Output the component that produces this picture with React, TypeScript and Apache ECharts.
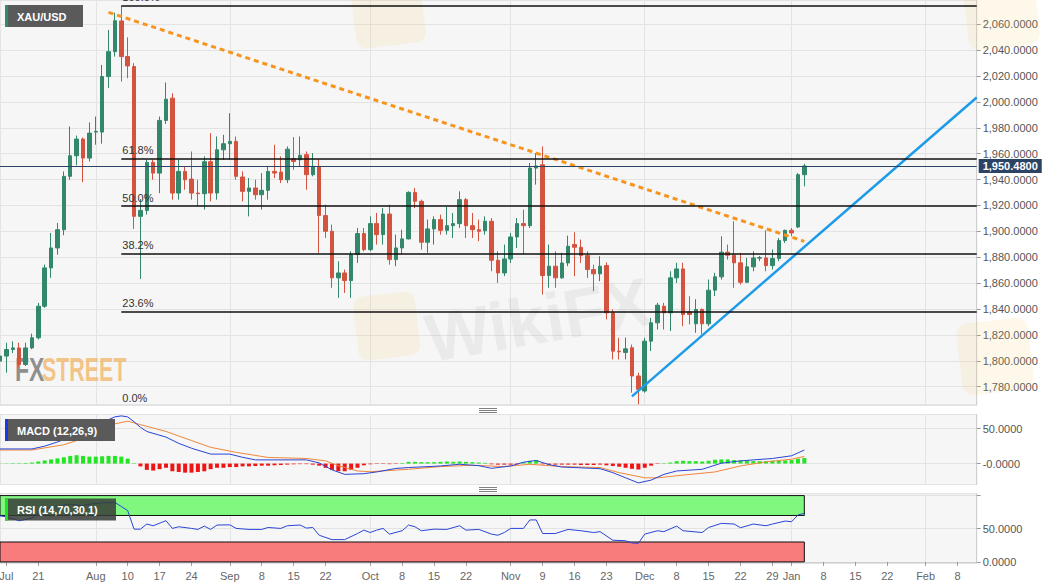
import React, { useEffect, useRef } from "react";
import * as echarts from "echarts";

const FONT = '"Liberation Sans", Arial, Helvetica, sans-serif';

// ---------- categories (trading days) ----------
function buildDates(): string[] {
  const out: string[] = [];
  const d = new Date(Date.UTC(2020, 6, 13));
  const end = Date.UTC(2021, 1, 11);
  while (d.getTime() <= end) {
    const wd = d.getUTCDay();
    if (wd !== 0 && wd !== 6) out.push(d.toISOString().slice(0, 10));
    d.setUTCDate(d.getUTCDate() + 1);
  }
  return out;
}
const dates = buildDates();

// ---------- tick labels ----------
const tickDates = [
  "2020-07-14", "2020-07-21", "2020-08-03", "2020-08-10", "2020-08-17", "2020-08-24",
  "2020-09-01", "2020-09-08", "2020-09-15", "2020-09-22", "2020-10-01", "2020-10-08",
  "2020-10-15", "2020-10-22", "2020-11-02", "2020-11-09", "2020-11-16", "2020-11-23",
  "2020-12-01", "2020-12-08", "2020-12-15", "2020-12-22", "2020-12-29", "2021-01-01",
  "2021-01-08", "2021-01-15", "2021-01-22", "2021-02-01", "2021-02-08",
];
const tickLabels = [
  "Jul", "21", "Aug", "10", "17", "24", "Sep", "8", "15", "22", "Oct", "8", "15", "22",
  "Nov", "9", "16", "23", "Dec", "8", "15", "22", "29", "Jan", "8", "15", "22", "Feb", "8",
];
const monthStarts = ["2020-08-03", "2020-09-01", "2020-10-01", "2020-11-02", "2020-12-01", "2021-01-01", "2021-02-01"];

// ---------- XAU/USD daily candles ----------
const opens = [
  1799.8, 1803.7, 1808.8, 1810, 1797.2, 1810, 1817.8, 1842.2, 1871.8, 1887.2,
  1901.3, 1942.5, 1958.4, 1971.3, 1956.6, 1976.7, 1976.7, 2019.6, 2038.8, 2062.5,
  2035, 2027.3, 1911.6, 1916.2, 1953.3, 1945, 1985.7, 2002.9, 1929.6, 1946.3,
  1940.4, 1929.6, 1929.1, 1953.8, 1929.6, 1963, 1967.7, 1969.5, 1942, 1930.9,
  1933.5, 1928.3, 1931.7, 1946.3, 1945.8, 1939.9, 1956.1, 1955.3, 1959.2, 1943.8,
  1950.2, 1912.2, 1900.1, 1864.1, 1867.9, 1862, 1882.1, 1898.3, 1885.9, 1906,
  1897.5, 1913.4, 1878.2, 1887.2, 1894.2, 1930.1, 1923.2, 1891.6, 1901.9, 1909.1,
  1900.8, 1904.4, 1906, 1924.5, 1904.4, 1901.3, 1900.5, 1907.8, 1877.7, 1867.9,
  1878.7, 1895.7, 1906, 1904.4, 1948.9, 1951.5, 1865.9, 1873.1, 1864.1, 1875.6,
  1889.8, 1887.7, 1881.3, 1870.5, 1867.2, 1873.6, 1837.1, 1807.5, 1806.5, 1810.1,
  1788.3, 1776.7, 1815.2, 1829.4, 1842.2, 1837.1, 1864.1, 1871, 1837.9, 1828.6,
  1839.7, 1828.6, 1854.6, 1864.9, 1883.9, 1881.6, 1875.7, 1860.7, 1872.6, 1879.3,
  1879.5, 1873.6, 1879, 1892.9, 1900.8, 1903.4, 1943.8,
];
const closes = [
  1803.7, 1808.8, 1810, 1797.2, 1810, 1817.8, 1842.2, 1871.8, 1887.2, 1901.3,
  1942.5, 1958.4, 1971.3, 1956.6, 1975.9, 1977.2, 2019.6, 2038.8, 2062.7, 2035,
  2027.8, 1911.6, 1916.2, 1953.3, 1945, 1985.7, 2002.1, 1929.6, 1946.3, 1939.9,
  1929.6, 1929.1, 1953.8, 1929.6, 1963, 1967.7, 1969.5, 1942.5, 1930.9, 1933.5,
  1928.3, 1931.7, 1946.3, 1945, 1939.9, 1963.5, 1954, 1958.7, 1943.8, 1950.2,
  1912.2, 1900.1, 1864.1, 1867.9, 1862, 1882.1, 1898.3, 1885.9, 1906, 1897.5,
  1913.4, 1878.2, 1887.2, 1894.2, 1930.1, 1923.2, 1891.6, 1901.9, 1909.1, 1900.8,
  1904.4, 1906, 1924.5, 1904.4, 1901.3, 1900.1, 1907.8, 1877.7, 1867.9, 1878.7,
  1895.7, 1906, 1904.4, 1948.9, 1950.5, 1865.9, 1873.1, 1864.1, 1875.6, 1888.5,
  1887.7, 1881.3, 1870.5, 1867.2, 1873.1, 1837.1, 1807.5, 1807, 1809.3, 1788.3,
  1778, 1815.2, 1829.4, 1843, 1837.1, 1864.1, 1871, 1835.8, 1835.8, 1839.7,
  1828.6, 1854.6, 1864.9, 1883.9, 1881.6, 1875.7, 1860.7, 1872.6, 1879.5, 1879.7,
  1873.6, 1879, 1892.9, 1900.8, 1898.8, 1943.8, 1950.48,
];
const lows = [
  1797, 1790.8, 1806, 1795, 1796, 1809, 1816.5, 1841, 1864.1, 1882,
  1897, 1939.9, 1951, 1938, 1954, 1966.9, 1967.7, 2010.8, 2035, 2015.7,
  2018.3, 1901.9, 1863.3, 1913, 1939.9, 1929.6, 1983, 1924.5, 1924.5, 1932.2,
  1924.5, 1919.4, 1916.8, 1923.2, 1924.5, 1955.3, 1955.3, 1939.9, 1923.2, 1911.6,
  1924.5, 1916.8, 1924.5, 1941.2, 1937.3, 1937.3, 1947.6, 1950.2, 1932.2, 1942.5,
  1883.4, 1894.9, 1856.4, 1848.7, 1852.5, 1848.7, 1875.6, 1884.6, 1884.6, 1889.8,
  1889.8, 1874.3, 1873.1, 1882.1, 1893.7, 1918, 1885.9, 1883.4, 1889.8, 1897.5,
  1897.5, 1894.9, 1902.6, 1894.9, 1894.9, 1892.4, 1897.5, 1869.2, 1860.2, 1865.4,
  1875.6, 1887.2, 1882.1, 1902.6, 1936.1, 1851.2, 1856.4, 1856.4, 1863.3, 1873.1,
  1865.4, 1875.6, 1864.1, 1853.8, 1861.5, 1832, 1801.1, 1801.1, 1801.1, 1775.4,
  1766.4, 1775.4, 1807.5, 1824.2, 1824.2, 1823, 1860.2, 1826.8, 1828.1, 1821.7,
  1820.4, 1826.8, 1850, 1862.8, 1878.2, 1856.4, 1858.9, 1860.2, 1869.2, 1877,
  1869.2, 1870.5, 1876.9, 1891.1, 1896.2, 1902.6, 1934.8,
];
const highs = [
  1814, 1814, 1815, 1814, 1814, 1821, 1844.8, 1874.4, 1898.8, 1906.5,
  1946.3, 1981, 1974, 1972.5, 1984.1, 1988.7, 2028.6, 2055.6, 2068.9, 2074.1,
  2049.9, 2029.9, 1925, 1955.3, 1955.3, 1988.7, 2015, 2006.7, 1955.3, 1950.2,
  1961.7, 1939.9, 1957.9, 1975.9, 1973.3, 1974.6, 1991.3, 1973.3, 1946.3, 1941.2,
  1939.9, 1945, 1950.2, 1966.9, 1957.9, 1965.6, 1972.8, 1973.3, 1961.7, 1960.5,
  1955.8, 1920.6, 1905.2, 1876.9, 1870.5, 1884.6, 1902.6, 1902.6, 1911.6, 1914.2,
  1918, 1920.6, 1897.5, 1901.3, 1931, 1933.5, 1924.5, 1909.1, 1911.6, 1912.9,
  1918.8, 1914.2, 1930.9, 1925.8, 1914.2, 1909.1, 1911.6, 1910.3, 1884.6, 1889.8,
  1898.8, 1910.3, 1916.8, 1952.8, 1960.5, 1965.6, 1889.8, 1884.6, 1883.4, 1896.7,
  1899.3, 1893.7, 1884.6, 1874.3, 1880.8, 1876, 1839.7, 1817.8, 1818, 1812.6,
  1790.8, 1817.8, 1833.2, 1844.8, 1844.8, 1869.2, 1875.7, 1875.7, 1849.9, 1847.6,
  1840.5, 1862.8, 1868, 1896.2, 1889.8, 1907.8, 1883.4, 1879.5, 1884.6, 1881,
  1900.8, 1886, 1894.9, 1901.3, 1902.6, 1945, 1952.2,
];

// ---------- Fibonacci retracement ----------
const fibLabels = ["100.0%", "61.8%", "50.0%", "38.2%", "23.6%", "0.0%"];
const fibRatios = [1, 0.618, 0.5, 0.382, 0.236, 0];
const fibHigh = 2074.5;
const fibLow = 1764.6;
const fibStartIdx = 19;

// ---------- trend lines [index, price] ----------
const resistancePts: [number, number][] = [[17, 2069.2], [126, 1892.3]];
const supportPts: [number, number][] = [[99, 1772.6], [153, 2003.4]];

const lastPrice = 1950.48;

// ---------- MACD (12,26,9) ----------
const macdHist = [
  0.6, 0.6, 0.6, 0.6, 0.8, 1.5, 3, 4.5, 6, 7.5,
  9, 11, 12, 11, 10, 10, 10.5, 11, 11, 10,
  7, 0.6, -4, -9, -10, -8, -6, -11, -12, -13,
  -13, -12, -11, -8, -6, -6, -5, -5, -4, -4,
  -3.5, -3, -3, -2.5, -2, -1.5, -1, -0.8, -0.8, -1.5,
  -3, -6, -9, -11, -11, -9, -6, -2.5, -1, -0.6,
  -0.6, -0.8, -0.6, 0.8, 2.5, 2.5, 2, 2, 2, 2.5,
  3, 2.5, 3, 2.5, 2, 1.5, 1, -1, -1.5, -1.5,
  -1.5, -1, 2, 4, 5, -1, -1.5, -1.5, -1.5, -1.5,
  -1.5, -2, -2, -2, -1.5, -2.5, -3.5, -4.5, -6, -7.5,
  -8.5, -6, -3, -0.6, 0.6, 1.5, 3.5, 4, 3.5, 3.5,
  3, 4, 5.5, 6, 6, 5, 4.5, 4, 3.5, 3.5,
  3.5, 4, 4, 4.5, 5, 7, 8,
];
const macdPts: [number, number][] = [
  [0, 21], [5, 21], [7, 25], [9, 31], [11, 38], [13, 45], [15, 52], [17, 63], [18, 67], [19, 68.4],
  [20, 67], [21, 60], [22, 52], [23, 46], [26, 38], [28, 29], [30, 22], [33, 13.6], [36, 13.6], [38, 9],
  [40, 5.3], [48, 5.3], [50, 1], [52, -9], [54, -15.5], [57, -14.5], [59, -12], [62, -7], [64, -5.7], [69, -3.4],
  [72, -1], [75, -3], [77, -6.8], [80, -3.4], [82, 2], [84, 4.5], [86, -1.5], [88, -4.9], [94, -7.3], [96, -13],
  [98, -20.4], [100, -27.7], [102, -23.7], [104, -15.5], [106, -10.6], [110, -8.2], [113, 0.6], [116, 3.9], [121, 7.3], [124, 11.2],
  [126, 19.4],
];
const signalPts: [number, number][] = [
  [0, 19.4], [5, 19.5], [10, 27], [13, 36], [16, 50], [18, 57], [20, 60.8], [22, 55.9], [26, 46.1], [30, 33],
  [33, 23.3], [37, 16.1], [42, 8.8], [48, 7.3], [51, 3.9], [53, -3], [56, -10.6], [58, -11.7], [64, -8.2], [69, -4.3],
  [74, -2.4], [79, -4.3], [83, -1], [88, -4.3], [94, -5.7], [97, -13], [101, -20.4], [103, -20.4], [107, -16.5], [112, -12],
  [116, -3.4], [120, 2.5], [124, 6.3], [126, 10.2],
];

// ---------- RSI (14) ----------
const rsiPts: [number, number][] = [
  [0, 69.3], [1, 68], [3, 62], [5, 66], [6, 74], [7, 80], [9, 84], [11, 87], [13, 85], [14, 87],
  [16, 89], [18, 89.6], [19, 83.6], [20, 77.4], [21, 49.4], [22, 49.4], [23, 57.1], [24, 54.5], [26, 62.2], [27, 50.5],
  [28, 53], [30, 50.5], [31, 49], [32, 54], [33, 49], [34, 55.6], [36, 55.9], [37, 50.5], [39, 49], [41, 49],
  [42, 51.9], [44, 50.5], [45, 54.5], [47, 55.6], [48, 51], [49, 51.9], [50, 40.2], [52, 33.6], [54, 33.6], [56, 42.8],
  [57, 47.9], [58, 44.3], [59, 47.9], [60, 50.5], [61, 41.9], [63, 47], [64, 55.6], [65, 53], [66, 47], [68, 49.4],
  [70, 49], [72, 54.5], [73, 47.9], [75, 49], [77, 41.9], [78, 40.2], [79, 44.3], [80, 50.5], [82, 50.5], [83, 63.3],
  [84, 63.3], [85, 42.8], [87, 42.8], [89, 49], [91, 47], [93, 44.3], [94, 45.6], [96, 32.7], [98, 31.9], [99, 28.6],
  [100, 28], [101, 41.9], [103, 47], [104, 45.6], [106, 54], [107, 47], [110, 44.3], [111, 51.9], [113, 58.1], [115, 57.1],
  [116, 51.5], [118, 57.1], [120, 54.5], [121, 57.1], [123, 61.6], [124, 60.6], [125, 70.8], [126, 73.3],
];
const rsiUpper = 70;
const rsiLower = 30;

// ---------- colours ----------
const UP = "#33876b";
const DOWN = "#d4533f";
const GRID_BG = "#f6f6f6";
const SPLIT = "#e3e3e3";

function fmt4(v: number) {
  return v.toLocaleString("en-US", { minimumFractionDigits: 4, maximumFractionDigits: 4 });
}
const fibValue = (r: number) => fibLow + r * (fibHigh - fibLow);

function buildOption(extraGraphic: any[] = []): any {
  const tickSet = new Set(tickDates);
  const tickMap: Record<string, string> = {};
  tickDates.forEach((d, i) => (tickMap[d] = tickLabels[i]));
  const monthSet = new Set(monthStarts);
  const lastIdx = opens.length - 1;
  const endCat = dates[dates.length - 1];
  const toPts = (pts: [number, number][]) => pts.map(([i, v]) => [dates[i], v]);

  const gridW = 976.7;
  const grids = [
    { left: 0, top: 0, width: gridW, height: 405 },
    { left: 0, top: 414.5, width: gridW, height: 70 },
    { left: 0, top: 493.6, width: gridW, height: 69.3 },
  ].map((g) => ({
    ...g,
    show: true,
    backgroundColor: GRID_BG,
    borderColor: "#d2d2d2",
    borderWidth: 1,
    containLabel: false,
    outerBoundsMode: "none",
  }));

  const xAxes = [0, 1, 2].map((gi) => ({
    type: "category",
    gridIndex: gi,
    data: dates,
    boundaryGap: false,
    axisLine: { show: gi === 2, lineStyle: { color: "#cfcfcf" } },
    axisTick: {
      show: gi === 2,
      interval: (_i: number, v: string) => tickSet.has(v),
      length: 4,
      lineStyle: { color: "#9a9a9a" },
    },
    axisLabel: {
      show: gi === 2,
      interval: (_i: number, v: string) => tickSet.has(v),
      formatter: (v: string) => tickMap[v] || "",
      color: "#666",
      fontSize: 11,
      fontFamily: FONT,
      margin: 8,
    },
    splitLine: {
      show: true,
      interval: (_i: number, v: string) => monthSet.has(v),
      lineStyle: { color: SPLIT, width: 1 },
    },
  }));

  const yCommon = {
    type: "value",
    position: "right",
    axisLine: { show: true, lineStyle: { color: "#cfcfcf" } },
    axisTick: { show: true, length: 4, lineStyle: { color: "#9a9a9a" } },
    splitLine: { show: true, lineStyle: { color: SPLIT, width: 1 } },
  };
  const labelBase = { color: "#555", fontSize: 11, fontFamily: FONT, margin: 6, showMinLabel: false, showMaxLabel: false };
  const yAxes = [
    {
      ...yCommon,
      gridIndex: 0,
      min: 1765.9,
      max: 2078.7,
      splitNumber: 15,
      minInterval: 20,
      maxInterval: 20,
      axisLabel: {
        ...labelBase,
        formatter: (v: number) => (Math.abs(v / 20 - Math.round(v / 20)) < 1e-6 ? fmt4(v) : ""),
      },
    },
    {
      ...yCommon,
      gridIndex: 1,
      min: -30,
      max: 70.4,
      splitNumber: 2,
      minInterval: 50,
      maxInterval: 50,
      axisLabel: { ...labelBase, formatter: (v: number) => (v === 0 ? "-0.0000" : v === 50 ? "50.0000" : "") },
    },
    {
      ...yCommon,
      gridIndex: 2,
      min: -1.5,
      max: 103,
      splitNumber: 2,
      minInterval: 50,
      maxInterval: 50,
      axisLabel: { ...labelBase, formatter: (v: number) => (v === 0 ? "0.0000" : v === 50 ? "50.0000" : "") },
    },
  ];

  const candleData = opens.map((o, i) => [o, closes[i], lows[i], highs[i]]);

  const series: any[] = [
    {
      type: "candlestick",
      name: "XAU/USD",
      xAxisIndex: 0,
      yAxisIndex: 0,
      data: candleData,
      barWidth: 4,
      clip: true,
      z: 3,
      itemStyle: { color: UP, color0: DOWN, borderColor: UP, borderColor0: DOWN, borderWidth: 1 },
      markLine: {
        symbol: ["none", "none"],
        silent: true,
        animation: false,
        lineStyle: { color: "#111", width: 1.5, type: "solid" },
        label: {
          show: true,
          position: "insideStartTop",
          formatter: "{b}",
          color: "#333",
          fontSize: 11,
          fontFamily: FONT,
          distance: [1, 3],
        },
        data: fibLabels.map((lab, i) => [
          { name: lab, coord: [dates[fibStartIdx], fibValue(fibRatios[i])] },
          { coord: [endCat, fibValue(fibRatios[i])] },
        ]),
      },
    },
    {
      type: "line",
      name: "price",
      xAxisIndex: 0,
      yAxisIndex: 0,
      data: [],
      clip: false,
      silent: true,
      z: 5,
      markLine: {
        symbol: ["none", "none"],
        silent: true,
        animation: false,
        lineStyle: { color: "#2b4466", width: 1, type: "solid" },
        label: {
          show: true,
          position: "end",
          formatter: fmt4(lastPrice),
          color: "#fff",
          backgroundColor: "#2b4466",
          fontWeight: "bold",
          fontSize: 11,
          fontFamily: FONT,
          padding: [2, 4, 1, 4],
          distance: 2,
        },
        data: [{ yAxis: lastPrice }],
      },
    },
    {
      type: "line",
      name: "resistance",
      xAxisIndex: 0,
      yAxisIndex: 0,
      data: toPts(resistancePts),
      symbol: "none",
      silent: true,
      z: 4,
      lineStyle: { color: "#f7941d", width: 3, type: [5, 4] },
    },
    {
      type: "line",
      name: "support",
      xAxisIndex: 0,
      yAxisIndex: 0,
      data: toPts(supportPts),
      symbol: "none",
      silent: true,
      z: 4,
      lineStyle: { color: "#1d9be8", width: 2.5 },
    },
    {
      type: "bar",
      name: "hist",
      xAxisIndex: 1,
      yAxisIndex: 1,
      barWidth: 4,
      silent: true,
      data: macdHist.map((v) => ({ value: v, itemStyle: { color: v >= 0 ? "#22e622" : "#f01414" } })),
    },
    {
      type: "line",
      name: "MACD",
      xAxisIndex: 1,
      yAxisIndex: 1,
      data: toPts(macdPts),
      symbol: "none",
      silent: true,
      z: 4,
      lineStyle: { color: "#2a45d6", width: 1 },
    },
    {
      type: "line",
      name: "signal",
      xAxisIndex: 1,
      yAxisIndex: 1,
      data: toPts(signalPts),
      symbol: "none",
      silent: true,
      z: 3,
      lineStyle: { color: "#f0873a", width: 1 },
    },
    {
      type: "line",
      name: "RSI",
      xAxisIndex: 2,
      yAxisIndex: 2,
      data: toPts(rsiPts),
      symbol: "none",
      silent: true,
      z: 4,
      lineStyle: { color: "#2a45d6", width: 1 },
      markArea: {
        silent: true,
        itemStyle: { borderColor: "#111", borderWidth: 1 },
        data: [
          [
            { coord: [dates[0], 100], itemStyle: { color: "#80f880", borderColor: "#111", borderWidth: 1 } },
            { coord: [dates[lastIdx], rsiUpper] },
          ],
          [
            { coord: [dates[0], rsiLower], itemStyle: { color: "#f87c7c", borderColor: "#111", borderWidth: 1 } },
            { coord: [dates[lastIdx], 0] },
          ],
        ],
      },
    },
  ];

  const boxFont = `bold 11px ${FONT}`;
  const logoFont = `bold 34px "Liberation Sans Narrow", ${FONT}`;
  const graphic: any[] = [
    // faint watermarks
    { type: "rect", x: 352, y: 298, rotation: 0.12, shape: { x: 0, y: 0, width: 62, height: 64, r: 10 }, style: { fill: "rgba(240,200,90,0.13)" }, z: 1, silent: true },
    { type: "text", x: 432, y: 372, rotation: 0.17, style: { text: "WikiFX", font: `bold 68px ${FONT}`, fill: "rgba(80,80,80,0.07)", verticalAlign: "bottom" }, z: 1, silent: true },
    { type: "rect", x: 350, y: -12, rotation: 0.12, shape: { x: 0, y: 0, width: 70, height: 62, r: 10 }, style: { fill: "rgba(240,200,90,0.13)" }, z: 1, silent: true },
    { type: "rect", x: 955, y: 325, rotation: 0.12, shape: { x: 0, y: 0, width: 72, height: 72, r: 12 }, style: { fill: "rgba(240,200,90,0.13)" }, z: 1, silent: true },
    { type: "rect", x: 962, y: -14, rotation: 0.12, shape: { x: 0, y: 0, width: 72, height: 66, r: 12 }, style: { fill: "rgba(240,200,90,0.13)" }, z: 1, silent: true },
    // FXStreet logo
    { type: "text", x: 15, y: 386, scaleX: 0.68, style: { text: "FX", font: logoFont, fill: "rgba(125,125,125,0.85)", verticalAlign: "bottom" }, z: 1, silent: true },
    { type: "text", x: 42, y: 386, scaleX: 0.63, style: { text: "STREET", font: logoFont, fill: "rgba(242,180,100,0.75)", verticalAlign: "bottom" }, z: 1, silent: true },
    // panel title boxes
    { type: "rect", shape: { x: 5, y: 5, width: 78, height: 22 }, style: { fill: "#5a5a5a" }, z: 100, silent: true },
    { type: "rect", shape: { x: 5, y: 5, width: 3, height: 22 }, style: { fill: "#2f8a6d" }, z: 101, silent: true },
    { type: "text", x: 17, y: 16.5, style: { text: "XAU/USD", font: boxFont, fill: "#fff", verticalAlign: "middle" }, z: 102, silent: true },
    { type: "rect", shape: { x: 5, y: 419, width: 110, height: 22 }, style: { fill: "#5a5a5a" }, z: 100, silent: true },
    { type: "rect", shape: { x: 5, y: 419, width: 3, height: 22 }, style: { fill: "#1739e8" }, z: 101, silent: true },
    { type: "text", x: 17, y: 430.5, style: { text: "MACD (12,26,9)", font: boxFont, fill: "#fff", verticalAlign: "middle" }, z: 102, silent: true },
    { type: "rect", shape: { x: 5, y: 498.6, width: 111, height: 22 }, style: { fill: "rgba(55,60,55,0.85)" }, z: 100, silent: true },
    { type: "rect", shape: { x: 5, y: 498.6, width: 3, height: 22 }, style: { fill: "#22e022" }, z: 101, silent: true },
    { type: "text", x: 17, y: 510, style: { text: "RSI (14,70,30,1)", font: boxFont, fill: "#fff", verticalAlign: "middle" }, z: 102, silent: true },
    ...extraGraphic,
  ];
  // panel resize handles
  [408.5, 410.5, 412.5, 487.5, 489.5, 491.5].forEach((y) => {
    graphic.push({ type: "line", shape: { x1: 479, y1: y, x2: 497, y2: y }, style: { stroke: "#808080", lineWidth: 1 }, z: 50, silent: true });
  });

  return {
    animation: false,
    backgroundColor: "#ffffff",
    textStyle: { fontFamily: FONT },
    grid: grids,
    xAxis: xAxes,
    yAxis: yAxes,
    series,
    graphic,
  };
}

export default function App() {
  const ref = useRef<HTMLDivElement>(null);
  useEffect(() => {
    document.body.style.margin = "0";
    const chart = echarts.init(ref.current as HTMLDivElement, null, { renderer: "svg" });
    chart.setOption(buildOption());
    // the 0.0% level sits just below the visible price range: place its label via the axis scale
    const p = chart.convertToPixel({ xAxisIndex: 0, yAxisIndex: 0 }, [dates[fibStartIdx], fibValue(0)]) as number[];
    if (p && isFinite(p[0]) && isFinite(p[1])) {
      const label = {
        type: "text",
        x: p[0] + 1,
        y: p[1] - 3,
        style: { text: fibLabels[fibLabels.length - 1], font: `11px ${FONT}`, fill: "#333", verticalAlign: "bottom" },
        z: 10,
        silent: true,
      };
      chart.setOption(buildOption([label]), true);
    }
    return () => chart.dispose();
  }, []);
  return <div ref={ref} style={{ width: 1060, height: 587 }} />;
}
